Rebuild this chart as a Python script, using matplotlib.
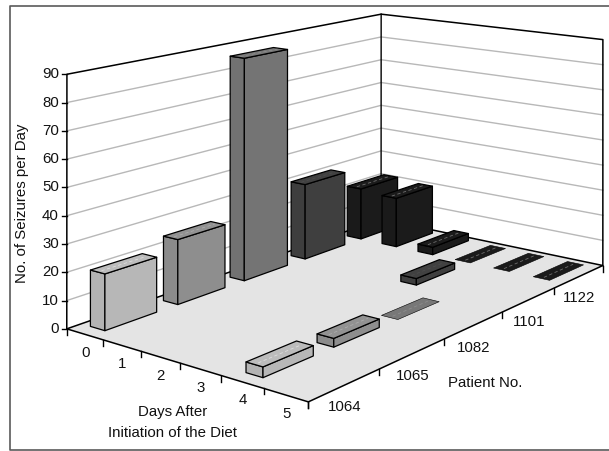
import numpy as np
import matplotlib.pyplot as plt

days = [0, 1, 2, 3, 4, 5]
patients = ['1064', '1065', '1082', '1101', '1122']
value_ticks = [0, 10, 20, 30, 40, 50, 60, 70, 80, 90]

# one list per patient, None = no bar drawn
p1064 = [20, None, None, None, 3.5, None]
p1065 = [24, None, None, None, 3, None]
p1082 = [86, None, None, None, 0, None]
p1101 = [30, None, None, 2.5, None, None]
p1122 = [21, 20, 3, 0, 0, 0]
series = [p1064, p1065, p1082, p1101, p1122]
colors = ['#b3b3b3', '#8b8b8b', '#727272', '#3e3e3e', '#1a1a1a']

plt.rcParams['font.family'] = ['Liberation Sans', 'DejaVu Sans']
FS = 10.8
TXT = '#111111'

fig = plt.figure(figsize=(6.09, 4.51), dpi=100)
ax = fig.add_axes([0, 0, 1, 1])
ax.set_xlim(0, 609)
ax.set_ylim(451, 0)
ax.axis('off')

# perspective of the box: box corners (day, patient, value) -> pixels
model = [(0, 0, 0), (6, 0, 0), (6, 5, 0), (0, 5, 0), (0, 0, 90), (0, 5, 90), (6, 5, 90)]
image = [(67, 329), (308, 402), (603, 265), (381, 219.5), (67, 74), (381, 14), (603, 40)]
rows = []
for (a, b, c), (x, y) in zip(model, image):
    rows.append([a, b, c, 1, 0, 0, 0, 0, -x*a, -x*b, -x*c, -x])
    rows.append([0, 0, 0, 0, a, b, c, 1, -y*a, -y*b, -y*c, -y])
P = np.linalg.svd(np.array(rows, dtype=float))[2][-1].reshape(3, 4)

def proj(u, w, v):
    q = P @ np.array([u, w, v, 1.0])
    return q[0]/q[2], q[1]/q[2]

def face(pts, color, z, ec='black', lw=0.9):
    ax.fill(*zip(*[proj(*p) for p in pts]), facecolor=color, edgecolor=ec, lw=lw, zorder=z, joinstyle='round')

def shade(color, f):
    c = np.array(plt.matplotlib.colors.to_rgb(color))
    return tuple(np.clip(c*f, 0, 1))

# frame runs off the right side of the picture
ax.plot([612, 9.5, 9.5, 612], [5.5, 5.5, 450, 450], color='#5a5a5a', lw=1.2, clip_on=True)

# walls and floor
face([(0, 0, 0), (6, 0, 0), (6, 5, 0), (0, 5, 0)], '#e4e4e4', 1, ec='black', lw=1.1)
for v in value_ticks[1:-1]:
    ax.plot(*zip(proj(0, 0, v), proj(0, 5, v), proj(6, 5, v)), color='#b8b8b8', lw=1, zorder=0.5)
ax.plot(*zip(proj(0, 0, 0), proj(0, 0, 90), proj(0, 5, 90), proj(6, 5, 90), proj(6, 5, 0)), color='black', lw=1.1, zorder=0.6)
ax.plot(*zip(proj(0, 5, 0), proj(0, 5, 90)), color='black', lw=1, zorder=0.6)

# axis ticks and labels
for v in value_ticks:
    x, y = proj(0, 0, v)
    ax.plot([x-5, x], [y, y], color='black', lw=1)
    ax.text(x-8, y, str(v), ha='right', va='center', fontsize=FS, color=TXT)
for d in range(7):
    x, y = proj(d, 0, 0)
    ax.plot([x, x], [y, y+6], color='black', lw=1)
for d in days:
    x, y = proj(d+0.5, 0, 0)
    ax.text(x+0.5, y+18.5, str(d), ha='center', va='center', fontsize=FS, color=TXT)
for w in range(6):
    x, y = proj(6, w, 0)
    ax.plot([x, x], [y, y+6], color='black', lw=1)
for w, p in enumerate(patients):
    x, y = proj(6, w+0.5, 0)
    ax.text(x, y+22, p, ha='center', va='center', fontsize=FS, color=TXT)

ax.text(22, 203, 'No. of Seizures per Day', rotation=90, ha='center', va='center', fontsize=FS, color=TXT)
ax.text(173, 412, 'Days After', ha='center', va='center', fontsize=FS, color=TXT)
ax.text(173, 433, 'Initiation of the Diet', ha='center', va='center', fontsize=FS, color=TXT)
ax.text(485, 383, 'Patient No.', ha='center', va='center', fontsize=FS, color=TXT)

# bars, back to front
ha = 0.2
hb = 0.35
bars = []
for w, vals in enumerate(series):
    for d, val in zip(days, vals):
        if val is not None:
            bars.append((w - d, d, w, val, colors[w]))
bars.sort(key=lambda b: -b[0])
for n, (_, d, w, val, col) in enumerate(bars):
    z = 2 + n*0.01
    u0, u1 = d + 0.45 - ha, d + 0.45 + ha
    w0, w1 = w + 0.54 - hb, w + 0.54 + hb
    if val > 0:
        face([(u0, w0, 0), (u1, w0, 0), (u1, w0, val), (u0, w0, val)], shade(col, 1.0), z)
        face([(u1, w0, 0), (u1, w1, 0), (u1, w1, val), (u1, w0, val)], shade(col, 1.02), z)
    face([(u0, w0, val), (u1, w0, val), (u1, w1, val), (u0, w1, val)], shade(col, 1.05), z, lw=0.9 if val > 0 else 0.4)
    a = proj(d + 0.45, w0 + 0.05, val)
    b = proj(d + 0.45, w1 - 0.05, val)
    ax.plot([a[0], b[0]], [a[1], b[1]], color=shade(col, 1.25) if col != '#1a1a1a' else '#777777',
            lw=0.6, ls=(0, (4, 3)), alpha=0.9, zorder=z + 0.001)

fig.savefig('out.png', dpi=100)
